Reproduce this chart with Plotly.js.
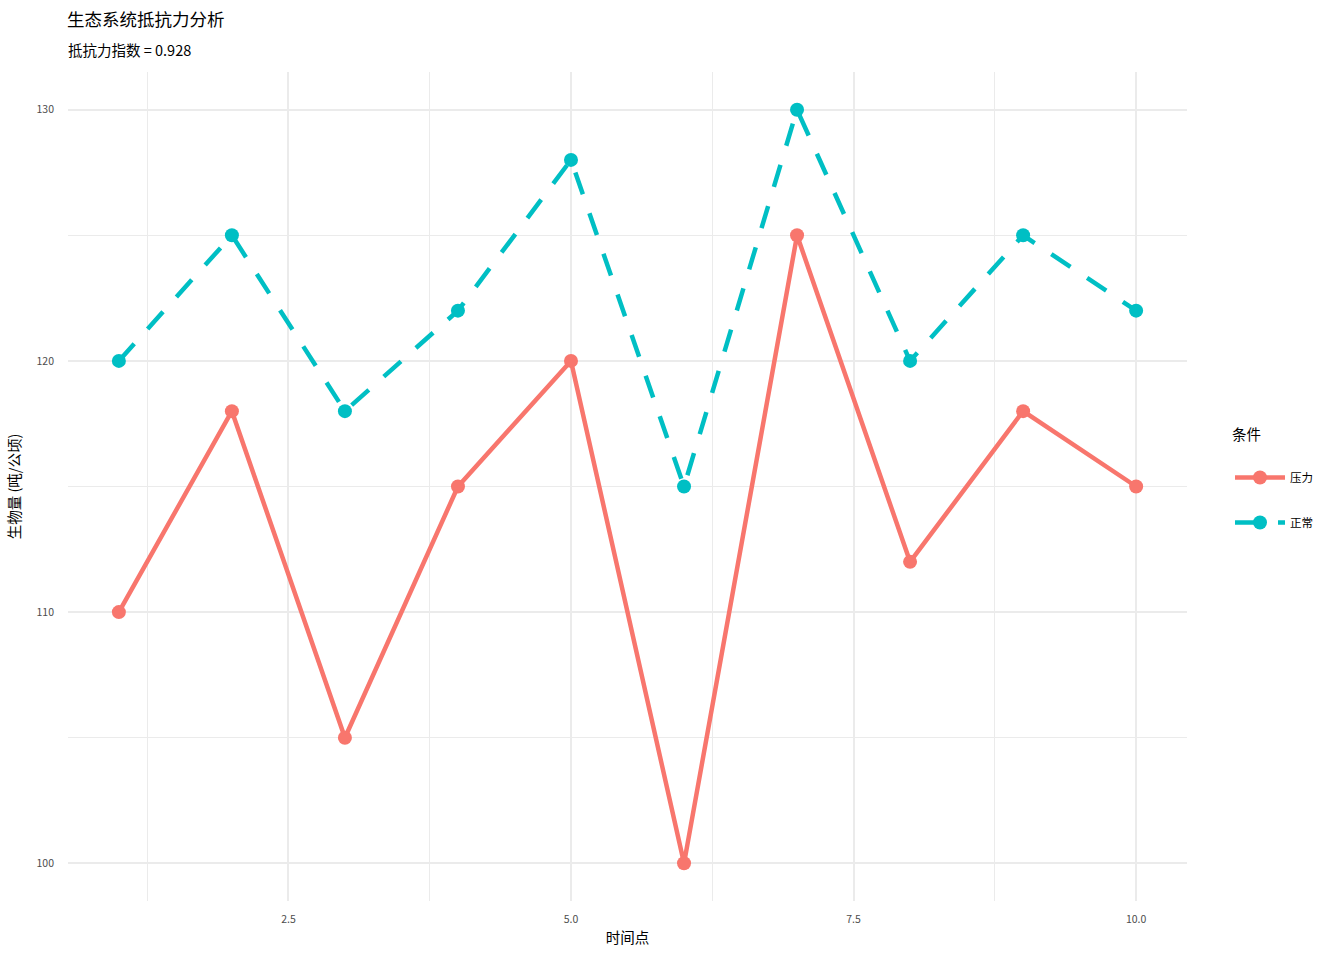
<!DOCTYPE html>
<html>
<head>
<meta charset="utf-8">
<script src="https://cdn.plot.ly/plotly-3.0.1.min.js"></script>
<style>html,body{margin:0;padding:0;background:#fff;}#chart{width:1344px;height:960px;}</style>
</head>
<body>
<div id="chart"></div>
<script>
const timePoints = [1, 2, 3, 4, 5, 6, 7, 8, 9, 10];
const stressValues = [110, 118, 105, 115, 120, 100, 125, 112, 118, 115];
const normalValues = [120, 125, 118, 122, 128, 115, 130, 120, 125, 122];
const seriesNames = ["压力", "正常"];
const seriesColors = ["#F8766D", "#00BFC4"];
const xTickVals = [2.5, 5.0, 7.5, 10.0];
const xTickText = ["2.5", "5.0", "7.5", "10.0"];
const yTickVals = [100, 110, 120, 130];
const yTickText = ["100", "110", "120", "130"];
const legendTitle = "条件";

const FONT = "'Noto Sans CJK SC', 'Noto Sans', sans-serif";

const traces = [
  {
    x: timePoints, y: stressValues, name: seriesNames[0], type: "scatter", mode: "lines+markers",
    line: {color: seriesColors[0], width: 4.5},
    marker: {color: seriesColors[0], size: 14},
    legendgroup: "a"
  },
  {
    x: timePoints, y: normalValues, name: seriesNames[1], type: "scatter", mode: "lines+markers",
    line: {color: seriesColors[1], width: 4.5, dash: "23px,20px"},
    marker: {color: seriesColors[1], size: 14},
    legendgroup: "b"
  }
];

const layout = {
  width: 1344, height: 960,
  paper_bgcolor: "#fff", plot_bgcolor: "#fff",
  font: {family: FONT, color: "#000"},
  margin: {l: 68, r: 157, t: 72, b: 59},
  title: {
    text: "生态系统抵抗力分析",
    x: 67/1344, xanchor: "left", xref: "container",
    y: 1 - 20/960, yanchor: "middle", yref: "container",
    font: {family: FONT, size: 17.5, color: "#000"}
  },
  annotations: [
    {
      text: "抵抗力指数 = 0.928", xref: "paper", yref: "paper",
      x: 0, xanchor: "left", xshift: -2, y: 1 + (72-49)/829, yanchor: "middle",
      showarrow: false, font: {family: FONT, size: 14.5, color: "#000"}
    },
    {
      text: legendTitle, xref: "paper", yref: "paper",
      x: (1230-68)/1119, xanchor: "left", y: 1 - (433-72)/829, yanchor: "middle",
      showarrow: false, font: {family: FONT, size: 14.5, color: "#000"}
    }
  ],
  xaxis: {
    range: [0.55, 10.45],
    tickmode: "array", tickvals: xTickVals, ticktext: xTickText,
    showgrid: true, gridcolor: "#EBEBEB", gridwidth: 2.1,
    zeroline: false, showline: false, ticks: "",
    ticklabelstandoff: 10,
    tickfont: {family: FONT, size: 10.5, color: "#4D4D4D"},
    minor: {tickvals: [1.25, 3.75, 6.25, 8.75], showgrid: true, gridcolor: "#EBEBEB", gridwidth: 1.1, ticks: ""},
    title: {text: "时间点", font: {family: FONT, size: 14.5, color: "#000"}, standoff: 8}
  },
  yaxis: {
    range: [98.5, 131.5],
    tickmode: "array", tickvals: yTickVals, ticktext: yTickText,
    showgrid: true, gridcolor: "#EBEBEB", gridwidth: 2.1,
    zeroline: false, showline: false, ticks: "",
    ticklabelstandoff: 13,
    tickfont: {family: FONT, size: 10.5, color: "#4D4D4D"},
    minor: {tickvals: [105, 115, 125], showgrid: true, gridcolor: "#EBEBEB", gridwidth: 1.1, ticks: ""},
    title: {text: "生物量 (吨/公顷)", font: {family: FONT, size: 14.5, color: "#000"}, standoff: 12}
  },
  legend: {
    x: (1230-68)/1119, xanchor: "left",
    y: 1 - (500-72)/829, yanchor: "middle",
    font: {family: FONT, size: 11.5, color: "#000"},
    traceorder: "grouped", tracegroupgap: 26,
    itemwidth: 50,
    bgcolor: "rgba(0,0,0,0)"
  },
  showlegend: true
};

Plotly.newPlot("chart", traces, layout, {displayModeBar: false, staticPlot: true});
</script>
</body>
</html>
